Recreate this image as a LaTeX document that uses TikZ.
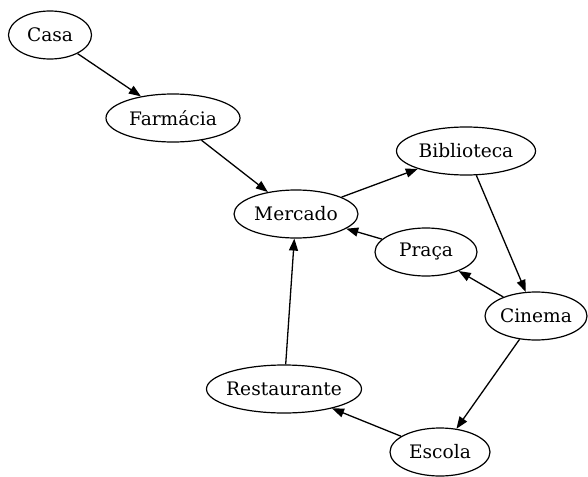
\documentclass[tikz,border=0pt]{standalone}
\usepackage{fontspec}
\setmainfont{DejaVu Serif}
\usetikzlibrary{arrows.meta,shapes.geometric}
\begin{document}
\begin{tikzpicture}[x=1pt,y=-1pt,
  place/.style={draw,ellipse,inner xsep=-5pt,inner ysep=0pt,line width=1.2pt,font=\fontsize{18.6}{21}\selectfont,minimum height=48pt},
  link/.style={line width=1.3pt,-{Triangle[length=12pt,width=9pt]}}]
\useasboundingbox (0,0) rectangle (588,476);
\node[place,minimum width=83pt] (casa) at (50,35) {Casa};
\node[place,minimum width=134pt] (farm) at (173,118) {Farmácia};
\node[place,minimum width=139pt] (bib) at (466,151) {Biblioteca};
\node[place,minimum width=124pt] (merc) at (296,214) {Mercado};
\node[place,minimum width=102pt] (praca) at (426,252) {Praça};
\node[place,minimum width=102pt] (cin) at (536,316) {Cinema};
\node[place,minimum width=155pt] (rest) at (284,389) {Restaurante};
\node[place,minimum width=100pt] (esc) at (440,452) {Escola};
\draw[link] (casa) -- (farm);
\draw[link] (farm) -- (merc);
\draw[link] (merc) -- (bib);
\draw[link] (bib) -- (cin);
\draw[link] (cin) -- (praca);
\draw[link] (praca) -- (merc);
\draw[link] (cin) -- (esc);
\draw[link] (esc) -- (rest);
\draw[link] (rest) -- (merc);
\end{tikzpicture}
\end{document}
